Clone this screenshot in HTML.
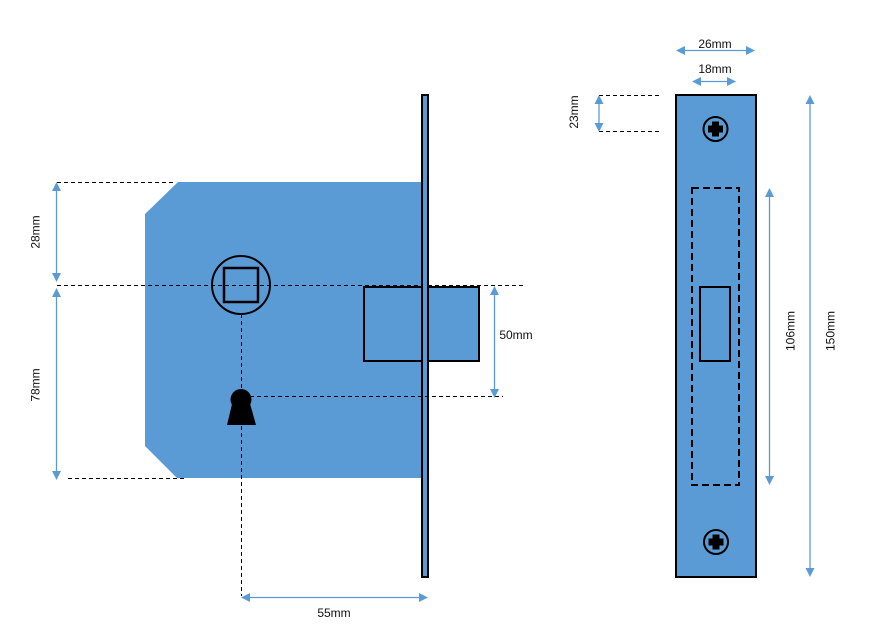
<!DOCTYPE html>
<html><head><meta charset="utf-8"><style>
html,body{margin:0;padding:0;background:#fff;}
svg{display:block;}
text{font-family:"Liberation Sans",sans-serif;font-size:12px;fill:#111;}
</style></head><body>
<svg width="875" height="630" viewBox="0 0 875 630" xmlns="http://www.w3.org/2000/svg">
<!-- lock body -->
<polygon points="178,182 422,182 422,478 177,478 145,446 145,214" fill="#5B9BD5"/>
<!-- dashed guides -->
<g stroke="#000" stroke-width="1" stroke-dasharray="4,3" fill="none">
<line x1="57" y1="182.5" x2="176" y2="182.5"/>
<line x1="57" y1="285.5" x2="525" y2="285.5"/>
<line x1="68" y1="478.5" x2="185" y2="478.5"/>
<line x1="250" y1="396.5" x2="503" y2="396.5"/>
<line x1="241.5" y1="314" x2="241.5" y2="596"/>
<line x1="599" y1="95.5" x2="661" y2="95.5"/>
<line x1="599" y1="131.5" x2="661" y2="131.5"/>
</g>
<!-- follower -->
<circle cx="241" cy="285" r="29" fill="none" stroke="#000" stroke-width="2"/>
<rect x="224" y="268" width="34" height="34" fill="none" stroke="#000" stroke-width="2.5"/>
<!-- keyhole -->
<circle cx="241" cy="399.5" r="10.5" fill="#000"/>
<polygon points="233,400 249,400 256,425 227,425" fill="#000"/>
<!-- latch bolt -->
<rect x="364" y="287" width="115" height="74" fill="#5B9BD5" stroke="#000" stroke-width="2"/>
<!-- faceplate side -->
<rect x="422" y="95" width="6" height="482" fill="#5B9BD5" stroke="#000" stroke-width="2"/>
<line x1="250" y1="396.5" x2="503" y2="396.5" stroke="#000" stroke-width="1" stroke-dasharray="4,3"/>

<!-- forend front -->
<rect x="676" y="95" width="80" height="482" fill="#5B9BD5" stroke="#000" stroke-width="2"/>
<rect x="692" y="188" width="47" height="297" fill="none" stroke="#000" stroke-width="2" stroke-dasharray="7,4"/>
<rect x="700" y="287" width="30" height="74" fill="none" stroke="#000" stroke-width="2"/>
<!-- screws -->
<circle cx="715.5" cy="129" r="12" fill="#5B9BD5" stroke="#000" stroke-width="2"/>
<rect x="712" y="121.5" width="7" height="15" fill="#000"/>
<rect x="708" y="125.5" width="15" height="7" fill="#000"/>
<circle cx="716" cy="542" r="12" fill="#5B9BD5" stroke="#000" stroke-width="2"/>
<rect x="712.5" y="534.5" width="7" height="15" fill="#000"/>
<rect x="708.5" y="538.5" width="15" height="7" fill="#000"/>

<!-- dimension arrows -->
<g stroke="#5B9BD5" stroke-width="1.3" fill="none">
<line x1="56.5" y1="188" x2="56.5" y2="276"/>
<line x1="56.5" y1="294" x2="56.5" y2="474"/>
<line x1="494.5" y1="292" x2="494.5" y2="392"/>
<line x1="247" y1="597.5" x2="422" y2="597.5"/>
<line x1="682" y1="50.5" x2="749" y2="50.5"/>
<line x1="698" y1="81.5" x2="730" y2="81.5"/>
<line x1="599" y1="101" x2="599" y2="126"/>
<line x1="769.5" y1="194" x2="769.5" y2="479"/>
<line x1="810" y1="101" x2="810" y2="571"/>
</g>
<g fill="#5B9BD5">
<!-- 28mm -->
<polygon points="56.5,182 52,191 61,191"/>
<polygon points="56.5,282 52,273 61,273"/>
<!-- 78mm -->
<polygon points="56.5,288 52,297 61,297"/>
<polygon points="56.5,480 52,471 61,471"/>
<!-- 50mm -->
<polygon points="494.5,286 490,295 499,295"/>
<polygon points="494.5,398 490,389 499,389"/>
<!-- 55mm -->
<polygon points="241,597.5 250,593 250,602"/>
<polygon points="428,597.5 419,593 419,602"/>
<!-- 26mm -->
<polygon points="676,50.5 685,46 685,55"/>
<polygon points="755,50.5 746,46 746,55"/>
<!-- 18mm -->
<polygon points="692,81.5 701,77 701,86"/>
<polygon points="736,81.5 727,77 727,86"/>
<!-- 23mm -->
<polygon points="599,95 594.5,104 603.5,104"/>
<polygon points="599,132 594.5,123 603.5,123"/>
<!-- 106mm -->
<polygon points="769.5,188 765,197 774,197"/>
<polygon points="769.5,485 765,476 774,476"/>
<!-- 150mm -->
<polygon points="810,95 805.5,104 814.5,104"/>
<polygon points="810,577 805.5,568 814.5,568"/>
</g>

<!-- labels -->
<text x="334" y="617" text-anchor="middle">55mm</text>
<text x="516" y="339" text-anchor="middle">50mm</text>
<text x="715" y="48" text-anchor="middle">26mm</text>
<text x="715" y="73" text-anchor="middle">18mm</text>
<text transform="translate(39.5,232) rotate(-90)" text-anchor="middle">28mm</text>
<text transform="translate(39.5,385) rotate(-90)" text-anchor="middle">78mm</text>
<text transform="translate(578,112) rotate(-90)" text-anchor="middle">23mm</text>
<text transform="translate(794.5,331) rotate(-90)" text-anchor="middle">106mm</text>
<text transform="translate(834.5,331) rotate(-90)" text-anchor="middle">150mm</text>
</svg>
</body></html>
